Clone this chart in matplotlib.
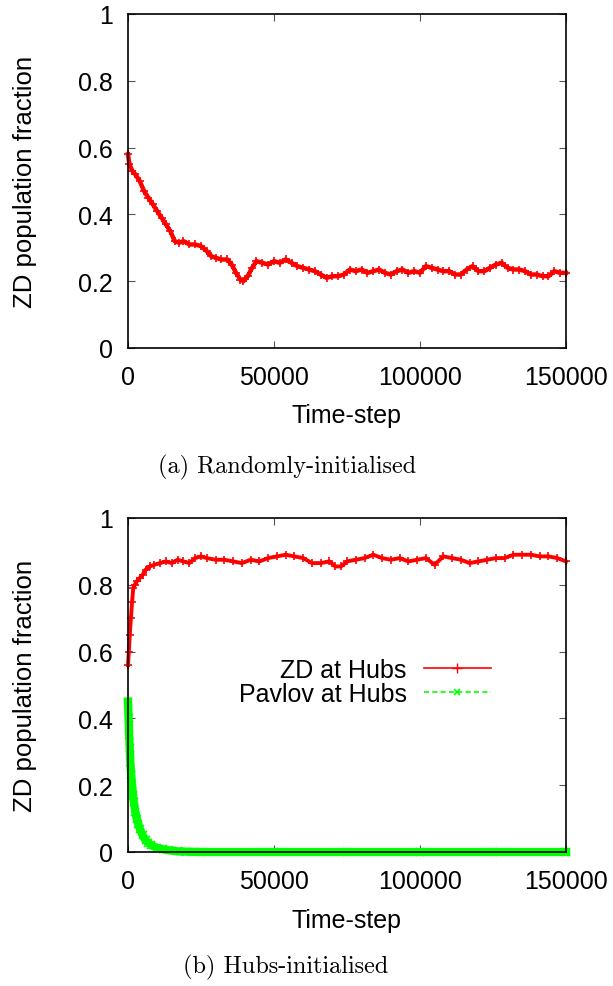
import numpy as np
import matplotlib
matplotlib.use('Agg')
import matplotlib.pyplot as plt
from matplotlib.lines import Line2D

plt.rcParams['font.family'] = ['Liberation Sans', 'DejaVu Sans']

# (a) randomly-initialised, ZD fraction
t_rand = [0, 500, 1500, 2500, 4000, 5500, 7000, 8500, 10000, 11500, 13000, 14500,
          16000, 17500, 19000, 21000, 23000, 25000, 27000, 28500, 30000, 32000,
          34000, 35500, 37000, 38500, 39500, 41000, 42500, 44000, 46000, 48000,
          50000, 52000, 54000, 56000, 58000, 60000, 62000, 64000, 66000, 68000,
          70000, 72000, 74000, 76000, 78000, 80000, 82000, 84000, 86000, 88000,
          90000, 92000, 94000, 96000, 98000, 100000, 102000, 104000, 106000,
          108000, 110000, 112000, 114000, 116000, 118000, 120000, 122000, 124000,
          126000, 128000, 130000, 132000, 134000, 136000, 138000, 140000, 142000,
          144000, 146000, 148000, 150000]
zd_rand = [0.58, 0.55, 0.53, 0.52, 0.50, 0.47, 0.45, 0.43, 0.41, 0.39, 0.37, 0.35,
           0.32, 0.315, 0.32, 0.31, 0.31, 0.305, 0.29, 0.275, 0.27, 0.265,
           0.265, 0.25, 0.225, 0.205, 0.20, 0.215, 0.24, 0.26, 0.255, 0.25,
           0.26, 0.255, 0.265, 0.255, 0.245, 0.24, 0.235, 0.23, 0.22, 0.21,
           0.215, 0.215, 0.22, 0.235, 0.23, 0.235, 0.225, 0.23, 0.235, 0.225,
           0.22, 0.23, 0.235, 0.225, 0.23, 0.225, 0.245, 0.24, 0.235, 0.23,
           0.23, 0.22, 0.22, 0.235, 0.245, 0.23, 0.23, 0.24, 0.25, 0.255,
           0.24, 0.235, 0.235, 0.23, 0.22, 0.22, 0.215, 0.215, 0.23, 0.225,
           0.225]

# (b) hubs-initialised
t_hub = [0, 300, 600, 1000, 1400, 1800, 2300, 3000, 4000, 5000, 6000, 7500, 9000,
         11000, 13000, 15000, 17000, 19000, 21000, 23000, 25000, 27000, 30000,
         33000, 36000, 39000, 42000, 45000, 48000, 51000, 54000, 57000, 60000,
         63000, 66000, 69000, 71000, 73000, 75000, 78000, 81000, 84000, 87000,
         90000, 93000, 96000, 99000, 102000, 105000, 108000, 111000, 114000,
         117000, 120000, 123000, 126000, 129000, 132000, 135000, 138000,
         141000, 144000, 147000, 150000]
zd_hub = [0.56, 0.60, 0.65, 0.70, 0.75, 0.79, 0.80, 0.81, 0.82, 0.83, 0.845, 0.855, 0.86,
          0.865, 0.87, 0.865, 0.875, 0.87, 0.865, 0.88, 0.885, 0.88, 0.875,
          0.875, 0.87, 0.865, 0.875, 0.87, 0.88, 0.885, 0.89, 0.885, 0.88,
          0.865, 0.865, 0.87, 0.855, 0.855, 0.87, 0.875, 0.88, 0.89, 0.88,
          0.875, 0.88, 0.87, 0.875, 0.88, 0.86, 0.885, 0.88, 0.875, 0.865,
          0.87, 0.875, 0.88, 0.88, 0.89, 0.89, 0.89, 0.885, 0.885, 0.88, 0.87]
t_pav = [0, 200, 400, 600, 800, 1100, 1400, 1700, 2000, 2500, 3000, 3500, 4000,
         5000, 6000, 7000, 8000, 10000, 12000, 14000, 17000, 20000, 25000,
         50000, 75000, 100000, 125000, 150000]
pav_hub = [0.45, 0.40, 0.35, 0.31, 0.27, 0.23, 0.20, 0.17, 0.15, 0.12, 0.10, 0.085,
           0.07, 0.05, 0.035, 0.027, 0.02, 0.012, 0.008, 0.005, 0.002, 0.001, 0.0,
           0.0, 0.0, 0.0, 0.0, 0.0]

RED = '#ff0000'
GREEN = '#00ff00'
FS = 18


def style(ax, xl_y):
    ax.set_xlim(0, 150000)
    ax.set_ylim(0, 1)
    ax.set_xticks([0, 50000, 100000, 150000])
    ax.set_xticklabels(['0', '50000', '100000', '150000'])
    ax.set_yticks([0, 0.2, 0.4, 0.6, 0.8, 1])
    ax.set_yticklabels(['0', '0.2', '0.4', '0.6', '0.8', '1'])
    ax.tick_params(direction='in', top=True, right=True, labelsize=FS,
                   length=5, width=0.8, colors='#555555', labelcolor='black')
    ax.tick_params(axis='x', pad=12)
    ax.tick_params(axis='y', pad=11)
    for s in ax.spines.values():
        s.set_linewidth(1.2)
    ax.set_xlabel('Time-step', fontsize=FS, va='center')
    ax.set_ylabel('ZD population fraction', fontsize=FS + 0.5, va='center')
    ax.xaxis.set_label_coords(0.5, xl_y)
    ax.yaxis.set_label_coords(-0.236, 0.5)


fig = plt.figure(figsize=(6.13, 9.87), dpi=100)
L, R = 128, 566
ax1 = fig.add_axes([L/613, 1 - 349/987, (R-L)/613, (349-15)/987])
ax2 = fig.add_axes([L/613, 1 - 853/987, (R-L)/613, (853-519)/987])

ax1.plot(t_rand, zd_rand, color=RED, lw=3.2, marker='+', ms=6, mew=1.2, clip_on=False)
style(ax1, -0.2)

ax2.plot(t_hub, zd_hub, color=RED, lw=2.8, marker='+', ms=6, mew=1.2, clip_on=False)
ax2.plot(t_pav, pav_hub, color=GREEN, lw=6, marker='x', ms=6, mew=1.2, clip_on=False)
style(ax2, -0.204)

h1 = Line2D([], [], color=RED, lw=1.2, marker='+', ms=7, mew=1)
h2 = Line2D([], [], color=GREEN, lw=1.2, ls=(0, (3, 2)), marker='x', ms=5, mew=1.2)
leg = ax2.legend([h1, h2], ['ZD at Hubs', 'Pavlov at Hubs'], loc='upper right',
                 bbox_to_anchor=((503 - L) / (R - L), (853 - 646) / 334),
                 frameon=False, fontsize=FS, markerfirst=False, borderpad=0,
                 handlelength=2.65, handletextpad=0.7, labelspacing=0.0,
                 numpoints=1)
leg._legend_box.align = 'right'

fig.text(287/613, 1 - 467/987, '(a) Randomly-initialised', ha='center', va='center',
         fontsize=17.5, family='cmr10')
fig.text(286/613, 1 - 967/987, '(b) Hubs-initialised', ha='center', va='center',
         fontsize=17.5, family='cmr10')

plt.savefig('out.png', dpi=100)
plt.close()
